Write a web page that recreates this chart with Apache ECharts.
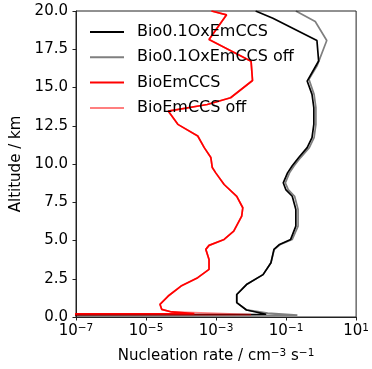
<!DOCTYPE html>
<html>
<head>
<meta charset="utf-8">
<script src="https://cdn.jsdelivr.net/npm/echarts@6/dist/echarts.min.js"></script>
<style>
  html, body { margin: 0; padding: 0; background: #fff; }
  #chart { width: 372px; height: 369px; }
</style>
</head>
<body>
<div id="chart"></div>
<script>
// the lowest model level is ~0, kept as a tiny number for the log axis
var ZERO = 1e-30;

var seriesNames = ["Bio0.1OxEmCCS", "Bio0.1OxEmCCS off", "BioEmCCS", "BioEmCCS off"];

var altOx = [20.0, 19.53, 18.07, 16.73, 15.42, 14.55, 13.68, 12.59, 11.72, 11.07, 10.42, 9.88, 9.42,
  8.77, 8.33, 7.89, 7.03, 5.94, 5.07, 4.74, 4.42, 3.55, 2.77, 2.12, 1.47, 0.94, 0.46, 0.18, 0.05];
var rateOx = [1.35e-2, 4.2e-2, 0.76, 0.85, 0.40, 0.55, 0.62, 0.62, 0.55, 0.40, 0.23, 0.15, 0.11,
  0.083, 0.098, 0.15, 0.19, 0.19, 0.135, 0.065, 0.045, 0.037, 0.022, 7.4e-3, 3.9e-3, 3.9e-3, 7.4e-3, 2.7e-2, ZERO];

var altOxOff = [20.0, 19.31, 18.07, 16.4, 15.53, 14.55, 13.68, 12.59, 11.72, 11.07, 10.42, 9.88, 9.42,
  8.77, 8.33, 7.89, 7.03, 5.94, 5.07, 4.74, 4.42, 3.55, 2.77, 2.12, 1.47, 0.94, 0.46, 0.25, 0.12, 0.05];
var rateOxOff = [0.19, 0.68, 1.45, 0.76, 0.45, 0.63, 0.71, 0.71, 0.63, 0.46, 0.26, 0.17, 0.125,
  0.095, 0.115, 0.175, 0.22, 0.22, 0.15, 0.068, 0.046, 0.037, 0.022, 7.4e-3, 3.9e-3, 3.9e-3, 7.4e-3, 3.0e-2, 0.21, ZERO];

var altBio = [20.0, 19.75, 18.13, 16.72, 15.46, 14.33, 13.89, 13.46, 12.59, 11.83, 11.07, 10.42, 9.77,
  9.42, 8.66, 7.89, 7.14, 6.59, 5.61, 5.07, 4.68, 4.42, 3.76, 3.11, 2.57, 2.02, 1.37, 0.83, 0.50, 0.33, 0.22, 0.05];
var rateBio = [7.4e-4, 2.0e-3, 6.3e-4, 1.0e-2, 1.1e-2, 2.6e-3, 5.6e-4, 4.3e-5, 8.1e-5, 3.0e-4, 4.6e-4, 7.1e-4, 7.8e-4,
  9.8e-4, 1.7e-3, 3.9e-3, 5.8e-3, 5.4e-3, 3.2e-3, 1.7e-3, 6.3e-4, 5.1e-4, 6.3e-4, 6.3e-4, 3.0e-4, 1.0e-4, 4.3e-5, 2.5e-5, 2.8e-5, 5.4e-5, 2.4e-4, ZERO];

var altBioOff = [20.0, 19.75, 18.13, 16.72, 15.46, 14.33, 13.89, 13.46, 12.59, 11.83, 11.07, 10.42, 9.77,
  9.42, 8.66, 7.89, 7.14, 6.59, 5.61, 5.07, 4.68, 4.42, 3.76, 3.11, 2.57, 2.02, 1.37, 0.83, 0.50, 0.33, 0.15, 0.05];
var rateBioOff = [7.4e-4, 2.0e-3, 6.3e-4, 1.0e-2, 1.1e-2, 2.6e-3, 5.6e-4, 4.3e-5, 8.1e-5, 3.0e-4, 4.6e-4, 7.1e-4, 7.8e-4,
  9.8e-4, 1.7e-3, 3.9e-3, 5.8e-3, 5.4e-3, 3.2e-3, 1.7e-3, 6.3e-4, 5.1e-4, 6.3e-4, 6.3e-4, 3.0e-4, 1.0e-4, 4.3e-5, 2.5e-5, 2.8e-5, 5.4e-5, 1.0e-2, ZERO];

var colors = ["#000000", "rgba(0,0,0,0.5)", "#ff0000", "rgba(255,0,0,0.5)"];
var FONT = "DejaVu Sans";

function pairs(rates, alts) {
    return rates.map(function (r, i) { return [r, alts[i]]; });
}

function makeLine(i, data) {
    return {
        name: seriesNames[i],
        type: "line",
        data: data,
        symbol: "none",
        clip: true,
        color: colors[i],
        lineStyle: { color: colors[i], width: 1.7 }
    };
}

var chart = echarts.init(document.getElementById("chart"));
chart.setOption({
    animation: false,
    textStyle: { fontFamily: FONT },
    grid: {
        left: 76, right: 10, top: 11, bottom: 51,
        show: true, borderColor: "#222", borderWidth: 1
    },
    legend: {
        orient: "vertical",
        left: 89, top: 24, padding: 0,
        itemWidth: 34, itemHeight: 14, itemGap: 9.3,
        itemStyle: { opacity: 0 },
        textStyle: { fontSize: 16, color: "#000", fontFamily: FONT, padding: [0, 0, 0, 8] },
        data: seriesNames
    },
    xAxis: {
        type: "log",
        min: 1e-7, max: 10,
        interval: 2,
        name: "Nucleation rate / cm{sup|\u22123} s{sup|\u22121}",
        nameLocation: "middle",
        nameGap: 31,
        nameTextStyle: {
            fontSize: 15, color: "#000", fontFamily: FONT,
            rich: { sup: { fontSize: 10.5, verticalAlign: "top", padding: [0, 0, 6, 0] } }
        },
        axisLine: { lineStyle: { color: "#222" } },
        axisTick: { show: true, inside: false, length: 3.5, lineStyle: { color: "#222" } },
        splitLine: { show: false },
        minorTick: { show: false },
        axisLabel: {
            margin: 6, fontSize: 15, color: "#000", fontFamily: FONT,
            formatter: function (v) {
                var e = Math.round(Math.log(v) / Math.LN10);
                return "10{sup|" + (e < 0 ? "\u2212" + (-e) : e) + "}";
            },
            rich: { sup: { fontSize: 10.5, verticalAlign: "top", padding: [0, 0, 6, 0] } }
        }
    },
    yAxis: {
        type: "value",
        min: 0, max: 20, interval: 2.5,
        name: "Altitude / km",
        nameLocation: "middle",
        nameGap: 41,
        nameTextStyle: { fontSize: 15, color: "#000", fontFamily: FONT },
        axisLine: { show: true, lineStyle: { color: "#222" } },
        axisTick: { show: true, inside: false, length: 3.5, lineStyle: { color: "#222" } },
        splitLine: { show: false },
        axisLabel: {
            margin: 8, fontSize: 15, color: "#000", fontFamily: FONT,
            formatter: function (v) { return v.toFixed(1); }
        }
    },
    series: [
        makeLine(0, pairs(rateOx, altOx)),
        makeLine(1, pairs(rateOxOff, altOxOff)),
        makeLine(2, pairs(rateBio, altBio)),
        makeLine(3, pairs(rateBioOff, altBioOff))
    ]
});
</script>
</body>
</html>
